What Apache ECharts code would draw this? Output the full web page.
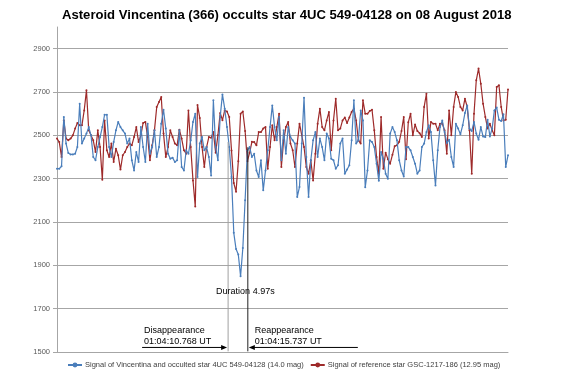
<!DOCTYPE html>
<html><head><meta charset="utf-8">
<script src="https://cdn.jsdelivr.net/npm/echarts@6/dist/echarts.min.js"></script>
<style>html,body{margin:0;padding:0;background:#fff}#c{width:567px;height:378px}</style>
</head><body><div id="c"></div>
<script>
// ---- data ----
const titleText = 'Asteroid Vincentina (366) occults star 4UC 549-04128 on 08 August 2018';
const blueName = 'Signal of Vincentina and occulted star 4UC 549-04128 (14.0 mag)';
const redName = 'Signal of reference star GSC-1217-186 (12.95 mag)';

const blueValues = [
  2346, 2346, 2357, 2585, 2462, 2418, 2412, 2412, 2415, 2446, 2646, 2462, 2485, 2508, 2538, 2500, 2400, 2385, 2446, 2492,
  2538, 2595, 2595, 2446, 2400, 2469, 2523, 2562, 2538, 2523, 2508, 2462, 2485, 2385, 2338, 2423, 2377, 2538, 2446, 2377,
  2554,
  2415, 2446, 2523, 2400, 2446, 2554, 2618, 2531, 2415, 2392, 2397, 2377, 2385, 2523, 2354, 2338, 2431, 2415, 2477, 2562,
  2600, 2308, 2462, 2492, 2431, 2446, 2400, 2315, 2662, 2446, 2385, 2585, 2689, 2623, 2538, 2446, 2308, 2050, 1975, 1950,
  1850, 1980, 2200, 2430, 2446, 2400, 2415, 2338, 2308, 2385, 2246, 2338, 2431, 2538, 2638, 2538, 2477, 2585, 2385, 2523,
  2415, 2538, 2492, 2477, 2462, 2215, 2262, 2462, 2674, 2400, 2215, 2385, 2477, 2515, 2400, 2485, 2446, 2385, 2508, 2485,
  2392, 2385, 2346, 2362, 2462, 2485, 2323, 2342, 2362, 2477, 2662, 2462, 2477, 2615, 2569, 2260, 2338, 2477, 2469, 2446,
  2369, 2290, 2423, 2392, 2323, 2300, 2508, 2538, 2515, 2477, 2385, 2338, 2310, 2446, 2446, 2431, 2400, 2369, 2323, 2338,
  2446, 2462, 2515, 2546, 2515, 2385, 2269, 2431, 2538, 2569, 2515, 2465, 2480, 2400, 2354, 2554, 2531, 2505, 2546, 2603,
  2638, 2531, 2520, 2562, 2508, 2480, 2538, 2495, 2492, 2572, 2495, 2531, 2615, 2628, 2572, 2566, 2597, 2354, 2408
];

const redValues = [
  2485, 2469, 2400, 2569, 2485, 2477, 2485, 2500, 2531, 2557, 2546, 2546, 2615, 2708, 2523, 2500, 2477, 2423, 2523, 2446,
  2295, 2569, 2431, 2400, 2462, 2377, 2438, 2408, 2342, 2408, 2423, 2446, 2462, 2454, 2492, 2538, 2469, 2500, 2557, 2562,
  2492,
  2385, 2454, 2523, 2631, 2654, 2677, 2508, 2400, 2446, 2523, 2492, 2462, 2454, 2526, 2485, 2431, 2415, 2615, 2446, 2292,
  2172, 2640, 2580, 2446, 2354, 2446, 2492, 2489, 2515, 2420, 2500, 2603, 2570, 2615, 2610, 2585, 2430, 2280, 2240, 2380,
  2600, 2610, 2520, 2380, 2420, 2470, 2469, 2454, 2515, 2515, 2531, 2538, 2346, 2446, 2546, 2477, 2538, 2600, 2354, 2477,
  2538, 2562, 2462, 2431, 2354, 2462, 2554, 2500, 2446, 2354, 2323, 2385, 2292, 2415, 2554, 2623, 2538, 2523, 2569, 2608,
  2431, 2569, 2669, 2523, 2531, 2569, 2582, 2557, 2582, 2608, 2623, 2569, 2477, 2462, 2662, 2600, 2600, 2612, 2618, 2523,
  2400, 2323, 2585, 2346, 2420, 2390, 2369, 2410, 2450, 2454, 2470, 2520, 2585, 2390, 2560, 2600, 2500, 2550, 2520, 2510,
  2492, 2631, 2692, 2485, 2562, 2554, 2554, 2523, 2554, 2554, 2523, 2415, 2615, 2500, 2631, 2700, 2677, 2631, 2615, 2669,
  2631, 2523, 2323, 2600, 2754, 2808, 2738, 2646, 2585, 2531, 2554, 2523, 2500, 2723, 2731, 2631, 2569, 2572, 2711
];

const yMin = 1500, yMax = 3000, yStep = 200;

// annotation positions in data space (sample index, signal value)
const disappearIdx = 75.5, reappearIdx = 84.2;
const eventLineTop = [2470, 2445], eventLineBottom = 1503;
const arrowValue = 1521;
const durationText = 'Duration 4.97s';
const disText = ['Disappearance', '01:04:10.768 UT'];
const reText = ['Reappearance', '01:04:15.737 UT'];

// ---- chart ----
const FONT = '"Liberation Sans", Arial, sans-serif';
const chart = echarts.init(document.getElementById('c'), null, {renderer: 'canvas'});
const toPairs = arr => arr.map((v, i) => [i, v]);
const nLines = Math.floor((yMax - yMin) / yStep) + 2;
const gridColors = [];
for (let k = 0; k < nLines; k++) gridColors.push(k === nLines - 1 ? 'rgba(0,0,0,0)' : '#a6a6a6');

chart.setOption({
  animation: false,
  backgroundColor: '#ffffff',
  title: {
    text: titleText, left: 62, top: 9, padding: 0,
    textStyle: {fontFamily: FONT, fontSize: 13.1, fontWeight: 'bold', color: '#000'}
  },
  legend: {
    left: 67, top: 361, padding: 0, itemWidth: 14, itemHeight: 6, itemGap: 6,
    textStyle: {fontFamily: FONT, fontSize: 7.5, color: '#404040', padding: [0,0,0,-2]},
    data: [blueName, redName]
  },
  grid: {left: 57, right: 59, top: 27, bottom: 26, containLabel: false},
  xAxis: {
    type: 'value', min: 0, max: blueValues.length - 1,
    axisLine: {show: true, lineStyle: {color: '#a6a6a6'}},
    axisTick: {show: false}, axisLabel: {show: false}, splitLine: {show: false}
  },
  yAxis: {
    type: 'value', min: yMin, max: yMax, interval: yStep,
    axisLine: {show: true, lineStyle: {color: '#a6a6a6'}},
    axisTick: {show: true, length: 4, lineStyle: {color: '#a6a6a6'}},
    axisLabel: {fontFamily: FONT, fontSize: 7.5, color: '#595959', margin: 7, showMaxLabel: false,
      formatter: v => String(v)},
    splitLine: {show: true, lineStyle: {color: gridColors, width: 1}}
  },
  series: [
    {
      name: blueName, type: 'line', data: toPairs(blueValues),
      symbol: 'circle', symbolSize: 2, showSymbol: true,
      lineStyle: {color: '#4a7ebb', width: 1.2}, itemStyle: {color: '#4a7ebb'}, z: 3
    },
    {
      name: redName, type: 'line', data: toPairs(redValues),
      symbol: 'circle', symbolSize: 2, showSymbol: true,
      lineStyle: {color: '#9e2a2a', width: 1.2}, itemStyle: {color: '#9e2a2a'}, z: 2
    }
  ]
});

// annotations placed from data coordinates
const px = (i, v) => chart.convertToPixel({gridIndex: 0}, [i, v]);
const dTop = px(disappearIdx, eventLineTop[0]), dBot = px(disappearIdx, eventLineBottom);
const rTop = px(reappearIdx, eventLineTop[1]), rBot = px(reappearIdx, eventLineBottom);
const ay = px(0, arrowValue)[1];
const dX = dTop[0], rX = rTop[0];
const txt = (t, x, y) => ({
  type: 'text', silent: true, z: 10,
  style: {text: t, x: x, y: y, fill: '#000', font: '9px ' + FONT, textVerticalAlign: 'middle', verticalAlign: 'middle'}
});
chart.setOption({
  graphic: [
    {type: 'line', silent: true, z: 5, shape: {x1: dX, y1: dTop[1], x2: dX, y2: dBot[1]}, style: {stroke: '#a0a0a0', lineWidth: 1}},
    {type: 'line', silent: true, z: 5, shape: {x1: rX, y1: rTop[1], x2: rX, y2: rBot[1]}, style: {stroke: '#222', lineWidth: 1}},
    {type: 'line', silent: true, z: 5, shape: {x1: dX - 86, y1: ay, x2: dX - 3, y2: ay}, style: {stroke: '#000', lineWidth: 1}},
    {type: 'polygon', silent: true, z: 5, shape: {points: [[dX - 1, ay], [dX - 7, ay - 2.5], [dX - 7, ay + 2.5]]}, style: {fill: '#000'}},
    {type: 'line', silent: true, z: 5, shape: {x1: rX + 3, y1: ay, x2: rX + 110, y2: ay}, style: {stroke: '#000', lineWidth: 1}},
    {type: 'polygon', silent: true, z: 5, shape: {points: [[rX + 1, ay], [rX + 7, ay - 2.5], [rX + 7, ay + 2.5]]}, style: {fill: '#000'}},
    txt(durationText, dX - 12, ay - 56),
    txt(disText[0], dX - 84, ay - 17),
    txt(disText[1], dX - 84, ay - 5.5),
    txt(reText[0], rX + 7, ay - 17),
    txt(reText[1], rX + 7, ay - 5.5)
  ]
});
</script>
</body></html>
